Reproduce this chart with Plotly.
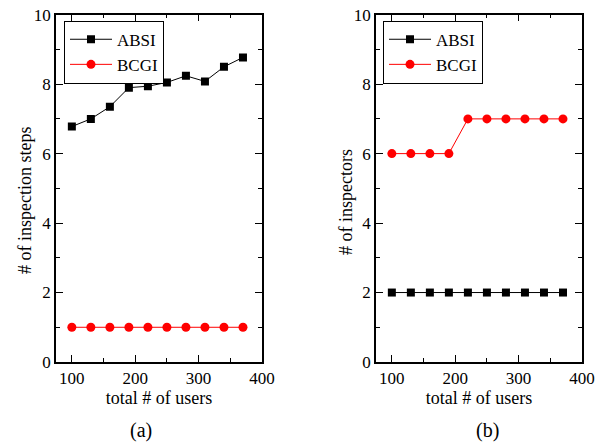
import plotly.graph_objects as go

users = [100, 130, 160, 190, 220, 250, 280, 310, 340, 370]
steps_absi = [6.78, 7.0, 7.35, 7.9, 7.94, 8.05, 8.24, 8.08, 8.5, 8.77]
steps_bcgi = [1, 1, 1, 1, 1, 1, 1, 1, 1, 1]
insp_absi = [2, 2, 2, 2, 2, 2, 2, 2, 2, 2]
insp_bcgi = [6, 6, 6, 6, 7, 7, 7, 7, 7, 7]

W, H = 602, 445
FONT = "Liberation Serif"

fig = go.Figure()

def add(x, y, name, color, symbol, size, xa, ya, leg):
    fig.add_trace(go.Scatter(
        x=x, y=y, name=name, mode="lines+markers",
        line=dict(color=color, width=1),
        marker=dict(symbol=symbol, size=size, color=color),
        xaxis=xa, yaxis=ya, legend=leg))

add(users, steps_absi, "ABSI", "black", "square", 8, "x", "y", "legend")
add(users, steps_bcgi, "BCGI", "#ff0000", "circle", 9, "x", "y", "legend")
add(users, insp_absi, "ABSI", "black", "square", 8, "x2", "y2", "legend2")
add(users, insp_bcgi, "BCGI", "#ff0000", "circle", 9, "x2", "y2", "legend2")

def px(x):
    return x / W

def py(y):
    return (H - y) / H

ydom = [py(362), py(14.7)]
xdom1 = [px(56), px(262)]
xdom2 = [px(376), px(582)]

xcommon = dict(range=[75, 400], tickvals=[100, 200, 300, 400], ticks="inside", ticklen=7,
               tickwidth=1, tickcolor="black", showline=True, linecolor="black", linewidth=1.5,
               mirror="allticks", showgrid=False, zeroline=False, automargin=False,
               minor=dict(tickvals=[150, 250, 350], ticks="inside", ticklen=4, tickcolor="black", showgrid=False),
               tickfont=dict(size=17, color="black", family=FONT),
               title=dict(text="total # of users", font=dict(size=18, color="black", family=FONT), standoff=2))
ycommon = dict(range=[0, 10], tickvals=[0, 2, 4, 6, 8, 10], ticks="inside", ticklen=7,
               tickwidth=1, tickcolor="black", showline=True, linecolor="black", linewidth=1.5,
               mirror="allticks", showgrid=False, zeroline=False, automargin=False,
               minor=dict(tickvals=[1, 3, 5, 7, 9], ticks="inside", ticklen=4, tickcolor="black", showgrid=False),
               tickfont=dict(size=17, color="black", family=FONT))

legcommon = dict(bgcolor="white", bordercolor="black", borderwidth=1,
                 font=dict(size=17, color="black", family=FONT),
                 xanchor="left", yanchor="top", tracegroupgap=0, itemwidth=42)

ann_font = dict(size=18, color="black", family=FONT)

fig.update_layout(
    width=W, height=H, autosize=False,
    margin=dict(l=0, r=0, t=0, b=0, autoexpand=False),
    paper_bgcolor="white", plot_bgcolor="white",
    font=dict(family=FONT, color="black"),
    xaxis=dict(domain=xdom1, anchor="y", **xcommon),
    yaxis=dict(domain=ydom, anchor="x", **ycommon),
    xaxis2=dict(domain=xdom2, anchor="y2", **xcommon),
    yaxis2=dict(domain=ydom, anchor="x2", **ycommon),
    legend=dict(x=px(64), y=py(20.7), **legcommon),
    legend2=dict(x=px(383), y=py(20.7), **legcommon),
    showlegend=True,
    annotations=[
        dict(text="# of inspection steps", x=px(25), y=py(201), xref="paper", yref="paper",
             textangle=-90, xanchor="center", yanchor="middle", showarrow=False, font=ann_font),
        dict(text="# of inspectors", x=px(346), y=py(202), xref="paper", yref="paper",
             textangle=-90, xanchor="center", yanchor="middle", showarrow=False, font=ann_font),
        dict(text="(a)", x=px(141), y=py(430), xref="paper", yref="paper",
             xanchor="center", yanchor="middle",
             showarrow=False, font=dict(size=20, color="black", family=FONT)),
        dict(text="(b)", x=px(487), y=py(430), xref="paper", yref="paper",
             xanchor="center", yanchor="middle",
             showarrow=False, font=dict(size=20, color="black", family=FONT)),
    ],
)

fig.write_html("out.html", config={"displayModeBar": False},
               post_script="document.body.style.margin='0';")
